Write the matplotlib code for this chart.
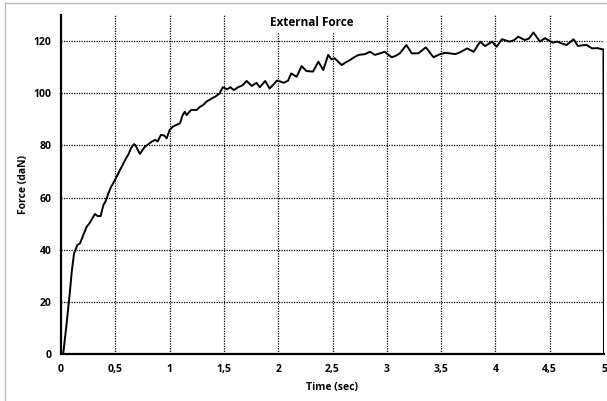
import matplotlib.pyplot as plt
from matplotlib.lines import Line2D

# readings (time in s, force in daN)
time_s = [0.00, 0.02, 0.05, 0.08, 0.10, 0.12, 0.15, 0.175, 0.20, 0.236, 0.26, 0.28,
          0.313, 0.337, 0.365, 0.39, 0.41, 0.436, 0.46, 0.497, 0.53, 0.559, 0.598,
          0.62, 0.645, 0.672, 0.69, 0.71, 0.727, 0.75, 0.773, 0.80, 0.835, 0.866,
          0.89, 0.92, 0.95, 0.973, 1.00, 1.03, 1.06, 1.096, 1.12, 1.14, 1.157,
          1.18, 1.20, 1.25, 1.28, 1.31, 1.34, 1.38, 1.42, 1.46, 1.49, 1.53, 1.56,
          1.59, 1.63, 1.67, 1.71, 1.756, 1.80, 1.83, 1.88, 1.92, 1.96, 1.986, 2.02,
          2.05, 2.09, 2.12, 2.17, 2.216, 2.26, 2.32, 2.37, 2.415, 2.46, 2.49, 2.52,
          2.585, 2.62, 2.66, 2.70, 2.74, 2.80, 2.845, 2.89, 2.94, 2.98, 3.045,
          3.08, 3.12, 3.18, 3.23, 3.29, 3.36, 3.43, 3.49, 3.54, 3.58, 3.63, 3.67,
          3.74, 3.80, 3.86, 3.905, 3.97, 4.01, 4.06, 4.10, 4.13, 4.17, 4.21, 4.27,
          4.31, 4.35, 4.41, 4.457, 4.50, 4.53, 4.57, 4.61, 4.655, 4.72, 4.76,
          4.80, 4.84, 4.89, 4.94, 4.98, 4.995, 5.00]
force_dan = [0.0, 0.0, 11.0, 23.0, 32.0, 38.5, 41.8, 42.4, 45.0, 48.8, 50.0, 51.4,
             53.7, 52.9, 52.9, 57.1, 58.5, 61.6, 64.0, 66.7, 69.5, 71.8, 75.0,
             76.5, 78.9, 80.5, 79.8, 78.0, 76.7, 78.2, 79.5, 80.3, 81.4, 82.1,
             81.5, 84.0, 83.8, 82.7, 85.9, 87.2, 87.8, 88.5, 91.6, 92.9, 91.6,
             92.8, 93.6, 93.6, 94.8, 95.5, 96.8, 97.8, 98.7, 99.9, 102.3, 101.5,
             102.3, 101.2, 102.3, 103.0, 104.7, 102.8, 104.0, 102.3, 104.7, 101.8,
             103.5, 104.8, 104.5, 104.0, 104.8, 107.6, 106.3, 110.4, 108.5, 108.3,
             112.1, 108.9, 114.7, 113.0, 113.4, 110.8, 111.8, 112.7, 113.8, 114.7,
             115.0, 115.9, 114.7, 115.3, 115.9, 113.8, 114.3, 115.3, 118.5, 115.3,
             115.3, 117.6, 113.8, 115.0, 115.5, 115.3, 115.0, 115.6, 117.2, 115.9,
             119.8, 118.1, 119.8, 117.8, 120.7, 120.2, 119.8, 120.3, 121.7, 120.4,
             121.0, 123.3, 119.8, 121.1, 120.0, 119.4, 119.8, 119.1, 118.5, 120.7,
             118.1, 118.4, 118.5, 117.2, 117.3, 116.9, 116.8, 0.0]

x_ticks = [0, 0.5, 1, 1.5, 2, 2.5, 3, 3.5, 4, 4.5, 5]
x_tick_labels = ["0", "0,5", "1", "1,5", "2", "2,5", "3", "3,5", "4", "4,5", "5"]
y_ticks = [0, 20, 40, 60, 80, 100, 120]

plt.rcParams['font.family'] = ['Open Sans', 'DejaVu Sans']

fig = plt.figure(figsize=(6.07, 4.01), dpi=100)
ax = fig.add_axes([61 / 607, 1 - 354 / 401, 543 / 607, 339 / 401])

dots = (0, (1, 1.0))
for x in x_ticks[1:-1]:
    ax.axvline(x, color='black', lw=0.9, ls=dots, zorder=1)
for y in y_ticks[1:]:
    ax.axhline(y, color='black', lw=0.9, ls=dots, zorder=1)

ax.plot(time_s, force_dan, color='black', lw=1.4, zorder=3)

ax.set_xlim(0, 5)
ax.set_ylim(0, 130)
ax.set_xticks(x_ticks)
ax.set_xticklabels(x_tick_labels)
ax.set_yticks(y_ticks)
ax.tick_params(length=0, labelsize=7.5, pad=7)
for lbl in ax.get_xticklabels() + ax.get_yticklabels():
    lbl.set_fontweight('bold')

for side in ['top', 'right']:
    ax.spines[side].set_visible(False)
ax.spines['left'].set_linewidth(1.6)
ax.spines['bottom'].set_linewidth(1.6)

ax.set_xlabel("Time (sec)", fontsize=7.5, fontweight='bold', labelpad=5)
ax.set_ylabel("Force (daN)", fontsize=7.5, fontweight='bold', labelpad=3)

ax.text(0.462, 0.978, "External Force", transform=ax.transAxes, ha='center', va='center',
        fontsize=8.5, fontweight='bold', zorder=5,
        bbox=dict(facecolor='white', edgecolor='none', pad=2))

# light frame of the chart area
fig.add_artist(Line2D([5 / 607, 5 / 607], [0, 1 - 3 / 401], color='#bbbbbb', lw=1.0))
fig.add_artist(Line2D([5 / 607, 1], [1 - 3 / 401, 1 - 3 / 401], color='#bbbbbb', lw=1.0))

fig.savefig("out.png", dpi=100)
